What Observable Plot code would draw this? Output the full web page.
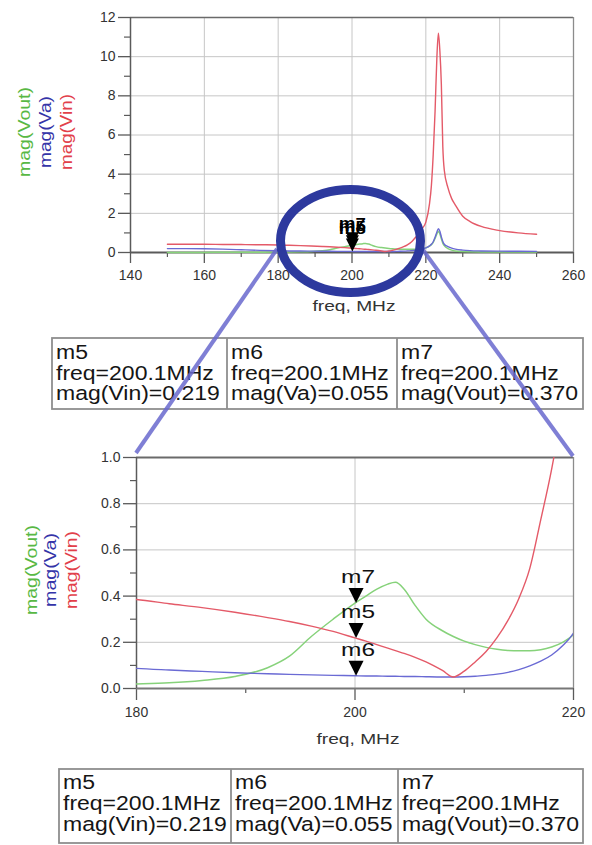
<!DOCTYPE html>
<html><head><meta charset="utf-8">
<script src="https://cdn.jsdelivr.net/npm/d3@7"></script>
<script src="https://cdn.jsdelivr.net/npm/@observablehq/plot@0.6"></script>
<style>
html,body{margin:0;padding:0;background:#fff;}
#page{position:relative;width:592px;height:845px;overflow:hidden;background:#fff;font-family:"Liberation Sans",Arial,sans-serif;}
#page svg{position:absolute;left:0;}
</style></head><body><div id="page"></div>
<script>
// ---- data ----
const freq = [150,155,160,165,170,175, 180,183,186,189,192,194,196,198, 200,201,202,203,203.7,204.5,205.5,206.5, 208,209,210,211,212,213,214,215,216,217,218,219, 220,221,221.5,222,222.5,223,223.4,223.8,224.2,224.6,225, 226,227,228,230,232,235,240,245,250];
const vin  = [0.42,0.42,0.42,0.41,0.405,0.395, 0.385,0.367,0.35,0.33,0.307,0.29,0.27,0.247, 0.219,0.205,0.19,0.175,0.164,0.152,0.135,0.115, 0.078,0.05,0.075,0.115,0.16,0.22,0.295,0.39,0.52,0.73,0.95,1.22, 1.55,2.5,3.4,5.0,7.2,10.0,11.2,10.3,8.6,5.4,4.2, 3.3,2.75,2.42,1.85,1.58,1.33,1.12,1.0,0.93];
const va   = [0.2,0.2,0.19,0.17,0.14,0.11, 0.087,0.08,0.074,0.068,0.064,0.061,0.059,0.057, 0.055,0.054,0.054,0.053,0.053,0.052,0.052,0.051, 0.05,0.05,0.051,0.053,0.057,0.062,0.07,0.082,0.098,0.118,0.145,0.185, 0.24,0.34,0.42,0.55,0.78,1.05,1.22,1.08,0.8,0.56,0.42, 0.3,0.22,0.17,0.12,0.095,0.08,0.068,0.062,0.058];
const vout = [0.0,0.003,0.005,0.008,0.01,0.015, 0.02,0.025,0.035,0.052,0.09,0.14,0.225,0.3, 0.37,0.4,0.43,0.452,0.46,0.43,0.36,0.3, 0.25,0.225,0.205,0.19,0.178,0.17,0.165,0.163,0.163,0.168,0.18,0.2, 0.235,0.32,0.4,0.52,0.72,0.95,1.08,0.95,0.7,0.48,0.35, 0.2,0.12,0.08,0.05,0.04,0.03,0.025,0.02,0.02];

const seriesLabels = ["mag(Vout)", "mag(Va)", "mag(Vin)"];
const markerNames  = ["m5", "m6", "m7"];
const markerSeries = ["Vin", "Va", "Vout"];
const markerFreq   = [200.1, 200.1, 200.1];
const markerValues = [0.219, 0.055, 0.370];

const topXTicks  = [140,160,180,200,220,240,260];
const topXMinor  = [150,170,190,210,230,250];
const topXGrid   = [160,180,200,220,240];
const topYTicks  = [0,2,4,6,8,10,12];
const topYMinor  = [1,3,5,7,9,11];
const topYGrid   = [2,4,6,8,10];
const zoomXTicks = [180,200,220];
const zoomXMinor = [190,210];
const zoomXGrid  = [200];
const zoomYTicks = [0,0.2,0.4,0.6,0.8,1.0];
const zoomYMinor = [0.1,0.3,0.5,0.7,0.9];
const zoomYGrid  = [0.2,0.4,0.6,0.8];
const axisTitle  = "freq, MHz";

// ---- derived tables ----
const rows = freq.map((f, i) => ({freq: f, vin: vin[i], va: va[i], vout: vout[i]}));
const markers = markerNames.map((n, i) => ({name: n, freq: markerFreq[i], value: markerValues[i]}));

const FONT = '"Liberation Sans", Arial, sans-serif';
const RED = "#e45a68", BLUE = "#6a6ad4", GREEN = "#86d27a";
const GRID = "#c6c6c6", AXIS = "#5a5a5a", TXT = "#333";

const markerSymbol = {
  draw(ctx, size) {
    const k = Math.sqrt(size / Math.PI);
    ctx.moveTo(0, 0);
    ctx.lineTo(-k, -2 * k);
    ctx.lineTo(k, -2 * k);
    ctx.closePath();
  }
};

function curveMarks(clip) {
  return [
    Plot.line(rows, {x: "freq", y: "vout", stroke: GREEN, strokeWidth: 1.5, curve: "monotone-x", clip}),
    Plot.line(rows, {x: "freq", y: "va", stroke: BLUE, strokeWidth: 1.4, curve: "monotone-x", clip}),
    Plot.line(rows, {x: "freq", y: "vin", stroke: RED, strokeWidth: 1.4, curve: "monotone-x", clip})
  ];
}

const page = document.getElementById("page");

// ---- top chart ----
const topPlot = Plot.plot({
  width: 592, height: 330,
  marginLeft: 130, marginRight: 19, marginTop: 17, marginBottom: 78,
  style: {fontFamily: FONT, fontSize: "14px", color: TXT, background: "transparent", overflow: "visible"},
  x: {domain: [140, 260], label: null},
  y: {domain: [0, 12], label: null},
  marks: [
    Plot.gridX(topXGrid, {stroke: GRID, strokeOpacity: 1}),
    Plot.gridY(topYGrid, {stroke: GRID, strokeOpacity: 1}),
    Plot.ruleY([12], {stroke: "#6a6a6a", strokeWidth: 1.6}),
    Plot.ruleX([260], {stroke: "#8c8c8c", strokeWidth: 1.3}),
    Plot.axisX(topXTicks, {tickSize: 11, tickPadding: 7, stroke: AXIS, strokeWidth: 1.3, fill: TXT, label: null}),
    Plot.axisX(topXMinor, {tickSize: 5, tickFormat: () => "", stroke: AXIS, strokeWidth: 1.2, label: null}),
    Plot.axisY(topYTicks, {tickSize: 12, tickPadding: 3, stroke: AXIS, strokeWidth: 1.3, fill: TXT, label: null}),
    Plot.axisY(topYMinor, {tickSize: 6, tickFormat: () => "", stroke: AXIS, strokeWidth: 1.2, label: null}),
    Plot.ruleY([0], {stroke: AXIS, strokeWidth: 1.8}),
    Plot.ruleX([140], {stroke: AXIS, strokeWidth: 1.5}),
    ...curveMarks(false),
    Plot.dot(markers, {x: "freq", y: "value", symbol: markerSymbol, r: 6.5, fill: "#000", stroke: "none"}),
    Plot.text(markers, {x: "freq", y: "value", text: "name", dy: -17, lineAnchor: "bottom", fontSize: 15, fill: "#000", fontWeight: "bold"}),
    Plot.text([axisTitle], {frameAnchor: "bottom", dy: 58, dx: 2, fontSize: 15, fill: TXT})
  ]
});
topPlot.style.top = "0px";
page.appendChild(topPlot);

// ---- zoomed chart ----
const zoomPlot = Plot.plot({
  width: 592, height: 328,
  marginLeft: 136, marginRight: 19, marginTop: 27, marginBottom: 70,
  style: {fontFamily: FONT, fontSize: "14px", color: TXT, background: "transparent", overflow: "visible"},
  x: {domain: [180, 220], label: null},
  y: {domain: [0, 1], label: null},
  marks: [
    Plot.gridX(zoomXGrid, {stroke: GRID, strokeOpacity: 1}),
    Plot.gridY(zoomYGrid, {stroke: GRID, strokeOpacity: 1}),
    Plot.ruleY([1], {stroke: "#6a6a6a", strokeWidth: 2}),
    Plot.ruleX([220], {stroke: "#8c8c8c", strokeWidth: 1.3}),
    Plot.axisX(zoomXTicks, {tickSize: 12, tickPadding: 7, stroke: AXIS, strokeWidth: 1.3, fill: TXT, label: null}),
    Plot.axisX(zoomXMinor, {tickSize: 5, tickFormat: () => "", stroke: AXIS, strokeWidth: 1.2, label: null}),
    Plot.axisY(zoomYTicks, {tickSize: 13, tickPadding: 3, tickFormat: d3.format(".1f"), stroke: AXIS, strokeWidth: 1.3, fill: TXT, label: null}),
    Plot.axisY(zoomYMinor, {tickSize: 6, tickFormat: () => "", stroke: AXIS, strokeWidth: 1.2, label: null}),
    Plot.ruleY([0], {stroke: "#777", strokeWidth: 2.2}),
    Plot.ruleX([180], {stroke: AXIS, strokeWidth: 1.5}),
    ...curveMarks(true),
    Plot.dot(markers, {x: "freq", y: "value", symbol: markerSymbol, r: 7.5, fill: "#000", stroke: "none"}),
    Plot.text(markers, {x: "freq", y: "value", text: "name", dy: -20, dx: 2, lineAnchor: "bottom", fontSize: 19, fill: "#111"}),
    Plot.text([axisTitle], {frameAnchor: "bottom", dy: 55, dx: 3, fontSize: 15, fill: TXT})
  ]
});
zoomPlot.style.top = "430px";
page.appendChild(zoomPlot);

// stretch some texts to match the reference glyph widths
function stretch(svg, match, len) {
  d3.select(svg).selectAll("text").filter(function() { return match(this.textContent); })
    .attr("textLength", len).attr("lengthAdjust", "spacingAndGlyphs");
}
stretch(topPlot, t => t === axisTitle, 83);
stretch(zoomPlot, t => t === axisTitle, 83);
stretch(topPlot, t => markerNames.includes(t), 27);
stretch(zoomPlot, t => markerNames.includes(t), 34);

// ---- overlay: axis titles, marker tables, zoom annotation ----
const ov = d3.create("svg").attr("width", 592).attr("height", 845)
  .style("position", "absolute").style("left", "0px").style("top", "0px")
  .attr("font-family", FONT);

const labelColors = ["#58b844", "#3434a8", "#e2404a"];
function yTitles(xs, yc, lens) {
  seriesLabels.forEach((t, i) => {
    ov.append("text")
      .attr("transform", `translate(${xs[i]},${yc}) rotate(-90)`)
      .attr("text-anchor", "middle").attr("dy", "0.33em")
      .attr("font-size", 16).attr("fill", labelColors[i])
      .attr("textLength", lens[i]).attr("lengthAdjust", "spacingAndGlyphs")
      .text(t);
  });
}
yTitles([25, 46, 67], 132, [90, 72, 76]);
yTitles([32, 51, 72], 570, [90, 74, 78]);

function drawTable(x0, y0, w, h, dividers, textX, baselines) {
  const g = ov.append("g");
  g.append("rect").attr("x", x0).attr("y", y0).attr("width", w).attr("height", h)
    .attr("fill", "#fff").attr("stroke", "#8e8e8e").attr("stroke-width", 1.8);
  dividers.forEach(dx => g.append("line").attr("x1", dx).attr("x2", dx).attr("y1", y0).attr("y2", y0 + h)
    .attr("stroke", "#8e8e8e").attr("stroke-width", 1.8));
  markerNames.forEach((name, i) => {
    const lines = [name, `freq=${markerFreq[i].toFixed(1)}MHz`, `mag(${markerSeries[i]})=${markerValues[i].toFixed(3)}`];
    lines.forEach((t, j) => g.append("text")
      .attr("transform", `translate(${textX[i]},${baselines[j]}) scale(1.18,1)`)
      .attr("font-size", 19.5).attr("fill", "#151515").text(t));
  });
}
drawTable(52, 338, 531, 71, [227, 397], [56, 231, 401], [359, 380, 400]);
drawTable(59, 769, 524, 74, [231, 398], [63, 235, 402], [789, 810, 831]);

// zoom connectors and ellipse
const LINE = "rgba(104,104,206,0.85)";
ov.append("line").attr("x1", 277).attr("y1", 249).attr("x2", 136).attr("y2", 453)
  .attr("stroke", LINE).attr("stroke-width", 4);
ov.append("line").attr("x1", 423).attr("y1", 250).attr("x2", 573).attr("y2", 456)
  .attr("stroke", LINE).attr("stroke-width", 4);
ov.append("ellipse").attr("cx", 350.5).attr("cy", 241).attr("rx", 70).attr("ry", 51.5)
  .attr("fill", "none").attr("stroke", "#2d399e").attr("stroke-width", 9);

page.appendChild(ov.node());
</script>
</body></html>
